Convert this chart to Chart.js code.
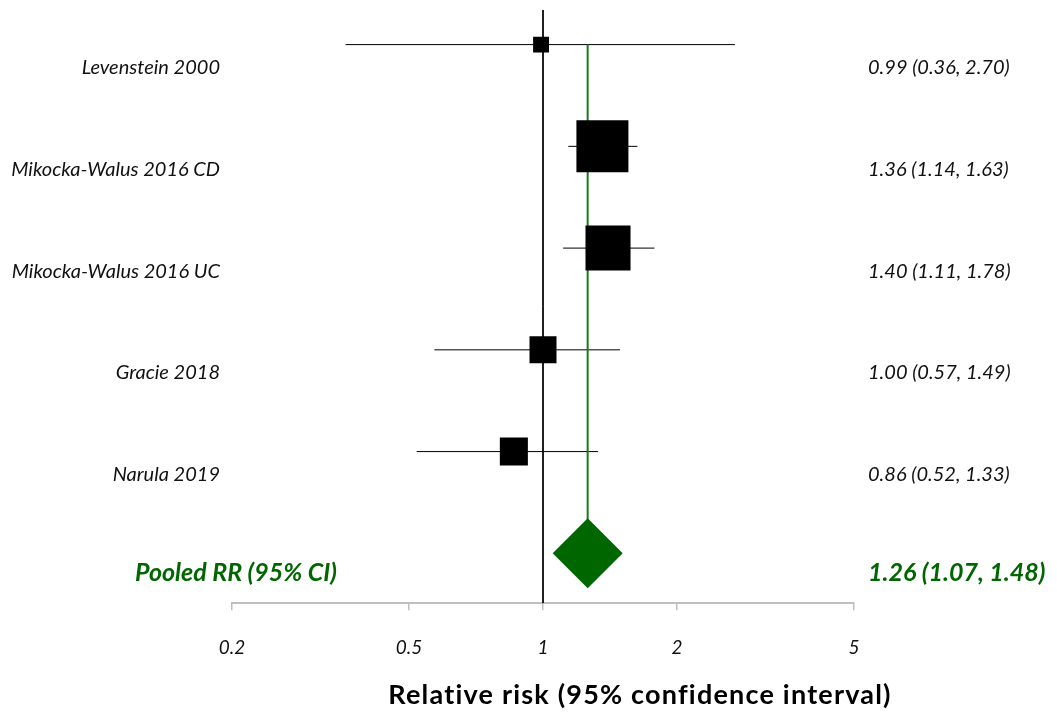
<!DOCTYPE html>
<html>
<head>
<meta charset="utf-8">
<title>Relative risk forest plot</title>
<script src="https://cdn.jsdelivr.net/npm/chart.js@4/dist/chart.umd.min.js"></script>
<style>
  html, body { margin: 0; padding: 0; background: #ffffff; }
  #wrap { width: 1057px; height: 713px; }
</style>
</head>
<body>
<div id="wrap"><canvas id="forest" width="1057" height="713"></canvas></div>
<script>
// ---- data ----
const studies = ['Levenstein 2000', 'Mikocka-Walus 2016 CD', 'Mikocka-Walus 2016 UC', 'Gracie 2018', 'Narula 2019'];
const rr = [0.99, 1.36, 1.40, 1.00, 0.86];
const ciLow = [0.36, 1.14, 1.11, 0.57, 0.52];
const ciHigh = [2.70, 1.63, 1.78, 1.49, 1.33];
const weights = [3.9, 41.6, 31.2, 11.2, 12.1];   // study weight (%)
const pooledLabel = 'Pooled RR (95% CI)';
const pooledRR = 1.26;
const pooledLow = 1.07;
const pooledHigh = 1.48;
const xTicks = [0.2, 0.5, 1, 2, 5];
const axisTitle = 'Relative risk (95% confidence interval)';

// ---- styling ----
const FONT = 'Lato';
const GREEN = '#006600';
const INK = '#111111';
const maxSide = 52;          // side of the heaviest study's square, px
const yMin = -0.49, yMax = 5.34;

// rows: first study on top, pooled estimate at 0
const rowOf = i => studies.length - i;
const fmt = (m, l, h) => `${m.toFixed(2)} (${l.toFixed(2)}, ${h.toFixed(2)})`;
const maxW = Math.max(...weights);
const sideOf = w => maxSide * Math.sqrt(w / maxW);

const datasets = [];

// reference line at RR = 1
datasets.push({
  data: [{x: 1, y: yMax}, {x: 1, y: yMin}],
  showLine: true, borderColor: '#000000', borderWidth: 1,
  pointRadius: 0, order: 10
});

// pooled estimate guide line
datasets.push({
  data: [{x: pooledRR, y: rowOf(0)}, {x: pooledRR, y: 0}],
  showLine: true, borderColor: '#1a7a1a', borderWidth: 2,
  pointRadius: 0, order: 8
});

// confidence interval whiskers
studies.forEach((s, i) => {
  datasets.push({
    data: [{x: ciLow[i], y: rowOf(i)}, {x: ciHigh[i], y: rowOf(i)}],
    showLine: true, borderColor: '#000000', borderWidth: 1,
    pointRadius: 0, order: 9
  });
});

// study squares, area proportional to weight
datasets.push({
  data: studies.map((s, i) => ({x: rr[i], y: rowOf(i)})),
  pointStyle: 'rect',
  pointRadius: weights.map(w => sideOf(w) / (2 * Math.SQRT1_2)),
  pointHoverRadius: weights.map(w => sideOf(w) / (2 * Math.SQRT1_2)),
  backgroundColor: '#000000', borderWidth: 0, order: 2
});

// pooled diamond
datasets.push({
  data: [{x: pooledRR, y: 0}],
  pointStyle: 'rectRot', pointRadius: 35, pointHoverRadius: 35,
  backgroundColor: GREEN, borderWidth: 0, order: 1
});

// row text, estimates and axis title
const textPlugin = {
  id: 'forestText',
  afterDatasetsDraw(chart) {
    const {ctx, scales: {y}, chartArea} = chart;
    ctx.save();
    ctx.textBaseline = 'middle';
    ctx.fillStyle = INK;
    ctx.font = `italic 20px ${FONT}`;
    studies.forEach((s, i) => {
      const py = y.getPixelForValue(rowOf(i)) + 23;
      ctx.textAlign = 'right';
      ctx.fillText(s, chartArea.left - 12, py);
      ctx.textAlign = 'left';
      ctx.fillText(fmt(rr[i], ciLow[i], ciHigh[i]), chartArea.right + 14, py);
    });
    const pyP = y.getPixelForValue(0) + 20;
    ctx.fillStyle = GREEN;
    ctx.font = `italic bold 25px ${FONT}`;
    ctx.textAlign = 'right';
    ctx.fillText(pooledLabel, chartArea.left + 105, pyP);
    ctx.textAlign = 'left';
    ctx.fillText(fmt(pooledRR, pooledLow, pooledHigh), chartArea.right + 14, pyP);

    ctx.fillStyle = '#000000';
    ctx.font = `bold 27px ${FONT}`;
    ctx.letterSpacing = '1.2px';
    ctx.textAlign = 'center';
    ctx.fillText(axisTitle, 640, 695);
    ctx.restore();
  }
};

new Chart(document.getElementById('forest'), {
  type: 'scatter',
  data: {datasets},
  plugins: [textPlugin],
  options: {
    responsive: false,
    animation: false,
    events: [],
    layout: {autoPadding: false, padding: {left: 232, right: 203, top: 10, bottom: 28}},
    plugins: {legend: {display: false}, tooltip: {enabled: false}, title: {display: false}},
    scales: {
      x: {
        type: 'logarithmic',
        position: 'bottom',
        min: 0.2, max: 5,
        afterBuildTicks: scale => { scale.ticks = xTicks.map(v => ({value: v})); },
        ticks: {
          callback: v => String(v),
          color: INK,
          font: {family: FONT, size: 19, style: 'italic'},
          padding: 26,
          maxRotation: 0, autoSkip: false
        },
        grid: {drawOnChartArea: false, drawTicks: true, tickLength: 7, color: '#bfbfbf', lineWidth: 1.5},
        border: {display: true, color: '#bfbfbf', width: 2}
      },
      y: {type: 'linear', min: yMin, max: yMax, display: false}
    }
  }
});
</script>
</body>
</html>
